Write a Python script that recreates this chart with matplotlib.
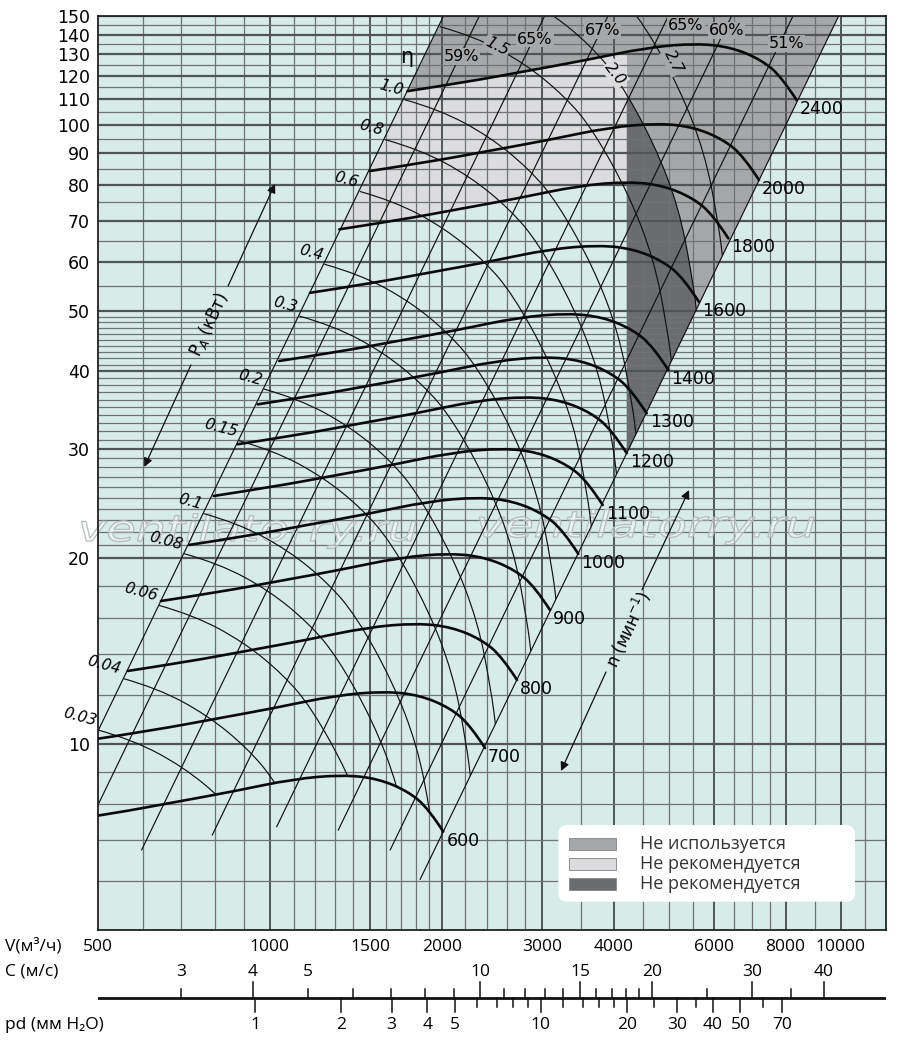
import numpy as np
import matplotlib
matplotlib.use("Agg")
import matplotlib.pyplot as plt
from matplotlib.path import Path
from matplotlib.patches import PathPatch, Polygon, Rectangle, FancyBboxPatch
from matplotlib.transforms import IdentityTransform, Affine2D
from matplotlib.textpath import TextPath
from matplotlib.font_manager import FontProperties
from matplotlib.ticker import NullLocator

plt.rcParams['font.family'] = ['DejaVu Sans']
SANS = ['Open Sans', 'DejaVu Sans']

# --- fan curves: speed and the end point of each curve (right limit line)
rpm = [600, 700, 800, 900, 1000, 1100, 1200, 1300, 1400, 1600, 1800, 2000, 2400]
end_v = [2012, 2381, 2709, 3094, 3469, 3827, 4217, 4570, 4986, 5641, 6351, 7188, 8366]
end_p = [7.22, 9.85, 12.69, 16.46, 20.28, 24.33, 29.49, 34.21, 40.2, 51.8, 65.6, 81.5, 109.7]

# shape of the 1000 rpm curve
base_v = [722.6, 916.9, 1168, 1487.5, 1894.8, 2317.7, 2669.5, 3012.5, 3265.5, 3469]
base_p = [20.97, 21.69, 22.60, 23.54, 24.66, 25.05, 24.68, 23.54, 22.10, 20.28]

# --- shaft power lines P_A (kW), start point on the left limit line
power_txt = ["0.03", "0.04", "0.06", "0.08", "0.1", "0.15", "0.2", "0.3",
             "0.4", "0.6", "0.8", "1.0", "1.5", "2.0", "2.7"]
start_v = [500.6, 551.4, 638.9, 707.3, 764.8, 882.1, 975.8, 1125.7,
           1245.9, 1436.7, 1590.9, 1720.6, 1984.6, 2194.6, 2438]
start_p = [10.53, 12.77, 16.75, 20.30, 23.57, 30.91, 37.45, 49.13,
           59.57, 78.11, 94.72, 109.9, 144.2, 174.7, 213.6]
# shape of the 0.03 kW line
arc_v = [500.6, 576.6, 705.4, 828.8, 927.6, 1072.9, 1186.8, 1250.6, 1281.2, 1296.6]
arc_p = [10.53, 10.15, 9.18, 8.12, 7.18, 5.64, 4.43, 3.45, 2.92, 2.47]
# labels written on the line itself (top of chart)
inline_txt = ["1.5", "2.0", "2.7"]
inline_v = [2496, 4022, 5081]
inline_p = [133.8, 120.9, 126.4]
inline_rot = [-27, -52, -63]

# --- system lines (efficiency), bottom and top points
diag_v0 = [500, 500, 596.3, 792.9, 1028, 1317.6, 1624.6, 1833]
diag_p0 = [10.495, 7.97, 6.744, 7.129, 7.353, 7.26, 6.744, 6.045]
diag_v1 = [2341, 2705, 3520, 4545, 5797, 7484, 9583, 11527]
diag_p1 = [200, 200, 200, 200, 200, 200, 200, 200]
eta_txt = ["59%", "65%", "67%", "65%", "60%", "51%"]
eta_v = [2167, 2913, 3827, 5354, 6311, 8037]
eta_p = [128.9, 137.6, 142.0, 145.0, 142.0, 135.5]

# --- axes
v_labels = [500, 1000, 1500, 2000, 3000, 4000, 6000, 8000, 10000]
p_labels = [10, 20, 30, 40, 50, 60, 70, 80, 90, 100, 110, 120, 130, 140, 150]
v_grid = [600, 700, 800, 900, 1100, 1200, 1300, 1400, 1600, 1700, 1800, 1900,
          2200, 2400, 2600, 2800, 3500, 4500, 5000, 5500, 6500, 7000, 7500, 9000, 11000]
v_grid_major = [1000, 1500, 2000, 3000, 4000, 6000, 8000, 10000]
p_grid = ([6, 7, 8, 9, 12, 14, 16, 18] + list(range(21, 30)) + list(range(31, 40))
          + list(range(41, 50)) + list(range(55, 150, 10)))

# --- velocity / dynamic pressure scales
duct_area = 0.0648          # m2
pd_factor = 0.0612          # mm H2O per (m/s)^2
c_ticks = [3, 4, 5, 6, 7, 8, 9, 10, 11, 12, 13, 14, 15, 16, 17, 18, 19, 20, 25, 30, 35, 40]
c_long = [4, 10, 15, 20, 30, 40]
c_labels = [3, 4, 5, 10, 15, 20, 30, 40]
pd_ticks = [1, 2, 3, 4, 5, 6, 7, 8, 9, 10, 12, 14, 16, 18, 20, 25, 30, 35, 40, 50, 60, 70]
pd_labels = [1, 2, 3, 4, 5, 10, 20, 30, 40, 50, 70]

legend_txt = ["Не используется", "Не рекомендуется", "Не рекомендуется"]

BG = '#d7ebe9'
MID = '#a6a7a9'
LIGHT = '#dcdcde'
DARK = '#6b6c6f'


def smooth(vs, ps):
    pts = list(zip(vs, ps))
    verts = [pts[0]]
    codes = [Path.MOVETO]
    n = len(pts)
    for i in range(1, n - 1):
        if i < n - 2:
            nxt = (np.sqrt(pts[i][0] * pts[i + 1][0]), np.sqrt(pts[i][1] * pts[i + 1][1]))
        else:
            nxt = pts[-1]
        verts += [pts[i], nxt]
        codes += [Path.CURVE3, Path.CURVE3]
    return verts, codes


def fan_curve(i):
    kv = end_v[i] / base_v[-1]
    kp = end_p[i] / base_p[-1]
    return [v * kv for v in base_v], [p * kp for p in base_p]


def power_line(j):
    kv = start_v[j] / arc_v[0]
    kp = start_p[j] / arc_p[0]
    return [v * kv for v in arc_v], [p * kp for p in arc_p]


fig = plt.figure(figsize=(9, 10.47), dpi=100)
ax = fig.add_axes([98 / 900, (1047 - 930.3) / 1047, 788.1 / 900, 914.3 / 1047])
ax.set_xscale('log')
ax.set_yscale('log')
ax.set_facecolor(BG)

L0_top = (diag_v1[0], diag_p1[0])
L7_top = (diag_v1[-1], diag_p1[-1])

# --- shaded zones
v24, p24 = fan_curve(12)
v18, p18 = fan_curve(10)
vv, cc = smooth(v24, p24)
ax.add_patch(PathPatch(Path(vv + [L7_top, L0_top, vv[0]],
                            cc + [Path.LINETO, Path.LINETO, Path.CLOSEPOLY]),
                       fc=MID, ec='none', zorder=1))
tri = Polygon([(end_v[6], 200), L7_top, (end_v[6], end_p[6])], closed=True,
              fc=MID, ec='none', zorder=1)
ax.add_patch(tri)

v1, c1 = smooth(v24, p24)
v2, c2 = smooth(v18, p18)
v2r = v2[::-1]
c2r = [Path.LINETO] + [Path.CURVE3] * (len(v2r) - 1)
light = PathPatch(Path(v1 + v2r + [v1[0]], c1 + c2r + [Path.CLOSEPOLY]),
                  fc=LIGHT, ec='none', zorder=1)
ax.add_patch(light)
light.set_clip_path(Rectangle((100, 1), end_v[6] - 100, 1000, transform=ax.transData))

av, ap = power_line(13)
va_, ca_ = smooth(av, ap)
dark = PathPatch(Path(va_ + [(av[-1], 0.1), (100, 0.1), (100, ap[0]), va_[0]],
                      ca_ + [Path.LINETO] * 3 + [Path.CLOSEPOLY]),
                 fc=DARK, ec='none', zorder=1.1)
ax.add_patch(dark)
dark.set_clip_path(Polygon([(end_v[6], 200), L7_top, (end_v[6], end_p[6])],
                           closed=True, transform=ax.transData))

# --- grid
for v in v_grid:
    ax.axvline(v, color='#6d7473', lw=0.9, zorder=1.5)
for v in v_grid_major:
    ax.axvline(v, color='#4f5655', lw=1.4, zorder=1.5)
for p in p_grid:
    ax.axhline(p, color='#6d7473', lw=0.9, zorder=1.5)
for p in p_labels:
    ax.axhline(p, color='#4f5655', lw=1.6, zorder=1.5)

# watermark, wide hollow italic letters (pixel positions of the baseline)
wm = TextPath((0, 0), 'ventilatorry.ru', size=36,
              prop=FontProperties(family='DejaVu Sans', style='italic'))
for wx, wy in [(78, 506), (476, 510)]:
    ax.add_patch(PathPatch(wm, transform=Affine2D().scale(1.33, 1.0).translate(wx, wy),
                           fc=(1, 1, 1, 0.45), ec='#b3bdbc', lw=0.9, zorder=1.8,
                           clip_on=False))

# --- system lines
for i in range(len(diag_v0)):
    ax.plot([diag_v0[i], diag_v1[i]], [diag_p0[i], diag_p1[i]], color='#111111',
            lw=0.85, zorder=2)
for i in range(len(eta_txt)):
    ax.text(eta_v[i], eta_p[i], eta_txt[i], fontsize=11.5, ha='center', va='center',
            zorder=6, bbox=dict(boxstyle='square,pad=0.05', fc=MID, ec='none'))
ax.text(1736, 128.9, 'η', fontsize=15, ha='center', va='center', zorder=6)

# --- power lines, clipped to the fan field above the lowest speed curve
v6, p6 = fan_curve(0)
vz, cz = smooth(v6, p6)
field = PathPatch(Path([L0_top] + vz + [L7_top, L0_top],
                       [Path.MOVETO, Path.LINETO] + cz[1:] + [Path.LINETO, Path.CLOSEPOLY]),
                  transform=ax.transData)
for j in range(len(power_txt)):
    pv, pp = power_line(j)
    verts, codes = smooth(pv, pp)
    line = PathPatch(Path(verts, codes), fill=False, ec='#111111', lw=0.85, zorder=2)
    ax.add_patch(line)
    line.set_clip_path(field)
    if power_txt[j] not in inline_txt:
        ax.annotate(power_txt[j], (start_v[j], start_p[j]), xytext=(-3, 4),
                    textcoords='offset pixels', ha='right', va='baseline',
                    rotation=-15, rotation_mode='anchor', fontsize=11,
                    style='italic', zorder=6)
for k in range(len(inline_txt)):
    fc = LIGHT if inline_txt[k] == "2.0" else MID
    ax.text(inline_v[k], inline_p[k], inline_txt[k], rotation=inline_rot[k],
            fontsize=11, style='italic', ha='center', va='center',
            rotation_mode='anchor', zorder=6,
            bbox=dict(boxstyle='square,pad=0.08', fc=fc, ec='none'))

# --- fan curves
for i in range(len(rpm)):
    fv, fp = fan_curve(i)
    verts, codes = smooth(fv, fp)
    ax.add_patch(PathPatch(Path(verts, codes), fill=False, ec='#0a0a0a', lw=1.9,
                           zorder=3, capstyle='round'))
    ax.annotate(str(rpm[i]), (end_v[i], end_p[i]), xytext=(3, -9),
                textcoords='offset pixels', ha='left', va='center',
                fontsize=12.5, zorder=6)

# --- direction arrows
arrow = dict(arrowstyle='-|>', color='#111111', lw=0.9, mutation_scale=13,
             shrinkA=0, shrinkB=0)
ax.annotate('', xy=(1020.8, 80.3), xytext=(844.9, 54.95), arrowprops=arrow, zorder=6)
ax.annotate('', xy=(602.7, 28.03), xytext=(727.4, 40.96), arrowprops=arrow, zorder=6)
ax.text(782.5, 47.7, 'P$_A$ (кВт)', rotation=65, fontsize=12, ha='center',
        va='center', rotation_mode='anchor', zorder=6)
ax.annotate('', xy=(5421, 25.72), xytext=(4484, 17.74), arrowprops=arrow, zorder=6)
ax.annotate('', xy=(3235, 9.045), xytext=(3878, 13.07), arrowprops=arrow, zorder=6)
ax.text(4238, 15.29, 'n (мин$^{-1}$)', rotation=65, fontsize=12, ha='center',
        va='center', rotation_mode='anchor', zorder=6)

ax.set_xlim(500, 12000)
ax.set_ylim(5, 150)
ax.xaxis.set_minor_locator(NullLocator())
ax.yaxis.set_minor_locator(NullLocator())
ax.set_xticks([])
ax.set_yticks(p_labels)
ax.set_yticklabels([str(p) for p in p_labels])
ax.tick_params(axis='y', length=0, pad=6, labelsize=12.5)
for s in ax.spines.values():
    s.set_linewidth(1.3)
    s.set_color('#222222')

# --- velocity / pressure scales below
ax2 = fig.add_axes([98 / 900, 2 / 1047, 788.1 / 900, 110 / 1047])
ax2.set_xscale('log')
ax2.set_xlim(500, 12000)
ax2.set_ylim(1045, 935)
ax2.axis('off')
for v in v_labels:
    ax2.text(v, 946.7, str(v), ha='center', va='center', fontsize=12.5, family=SANS)
ax2.axhline(998.3, color='#111111', lw=2.0)
for c in c_ticks:
    ln = 16 if c in c_long else 9
    ax2.plot([c * duct_area * 3600] * 2, [998.3, 998.3 - ln], color='#111111', lw=1.1)
for c in c_labels:
    ax2.text(c * duct_area * 3600, 971.7, str(c), ha='center', va='center',
             fontsize=12.5, family=SANS)
for d in pd_ticks:
    ln = 14 if d in pd_labels else 9
    vd = np.sqrt(d / pd_factor) * duct_area * 3600
    ax2.plot([vd] * 2, [998.3, 998.3 + ln], color='#111111', lw=1.1)
for d in pd_labels:
    vd = np.sqrt(d / pd_factor) * duct_area * 3600
    ax2.text(vd, 1025, str(d), ha='center', va='center', fontsize=12.5, family=SANS)

fig.text(5 / 900, 1 - 946.7 / 1047, 'V(м³/ч)', ha='left', va='center', fontsize=12.5, family=SANS)
fig.text(5 / 900, 1 - 971.7 / 1047, 'C (м/с)', ha='left', va='center', fontsize=12.5, family=SANS)
fig.text(5 / 900, 1 - 1025 / 1047, 'pd (мм H₂O)', ha='left', va='center', fontsize=12.5, family=SANS)

# --- legend box
fig.add_artist(FancyBboxPatch((558.3, 145.3), 296.7, 76.7,
                              boxstyle='round,pad=0,rounding_size=9', fc='white',
                              ec='none', transform=IdentityTransform(), zorder=5))
leg_colors = [MID, LIGHT, DARK]
leg_y = [203.3, 183.3, 163.0]
for k in range(3):
    fig.add_artist(Rectangle((569.3, leg_y[k] - 6.2), 46.7, 12.4, fc=leg_colors[k],
                             ec='#8c8c8c', lw=0.7, transform=IdentityTransform(), zorder=6))
    fig.text(640 / 900, leg_y[k] / 1047, legend_txt[k], ha='left', va='center',
             fontsize=13, color='#333333', family=SANS, zorder=7)

fig.savefig('out.png', dpi=100)
